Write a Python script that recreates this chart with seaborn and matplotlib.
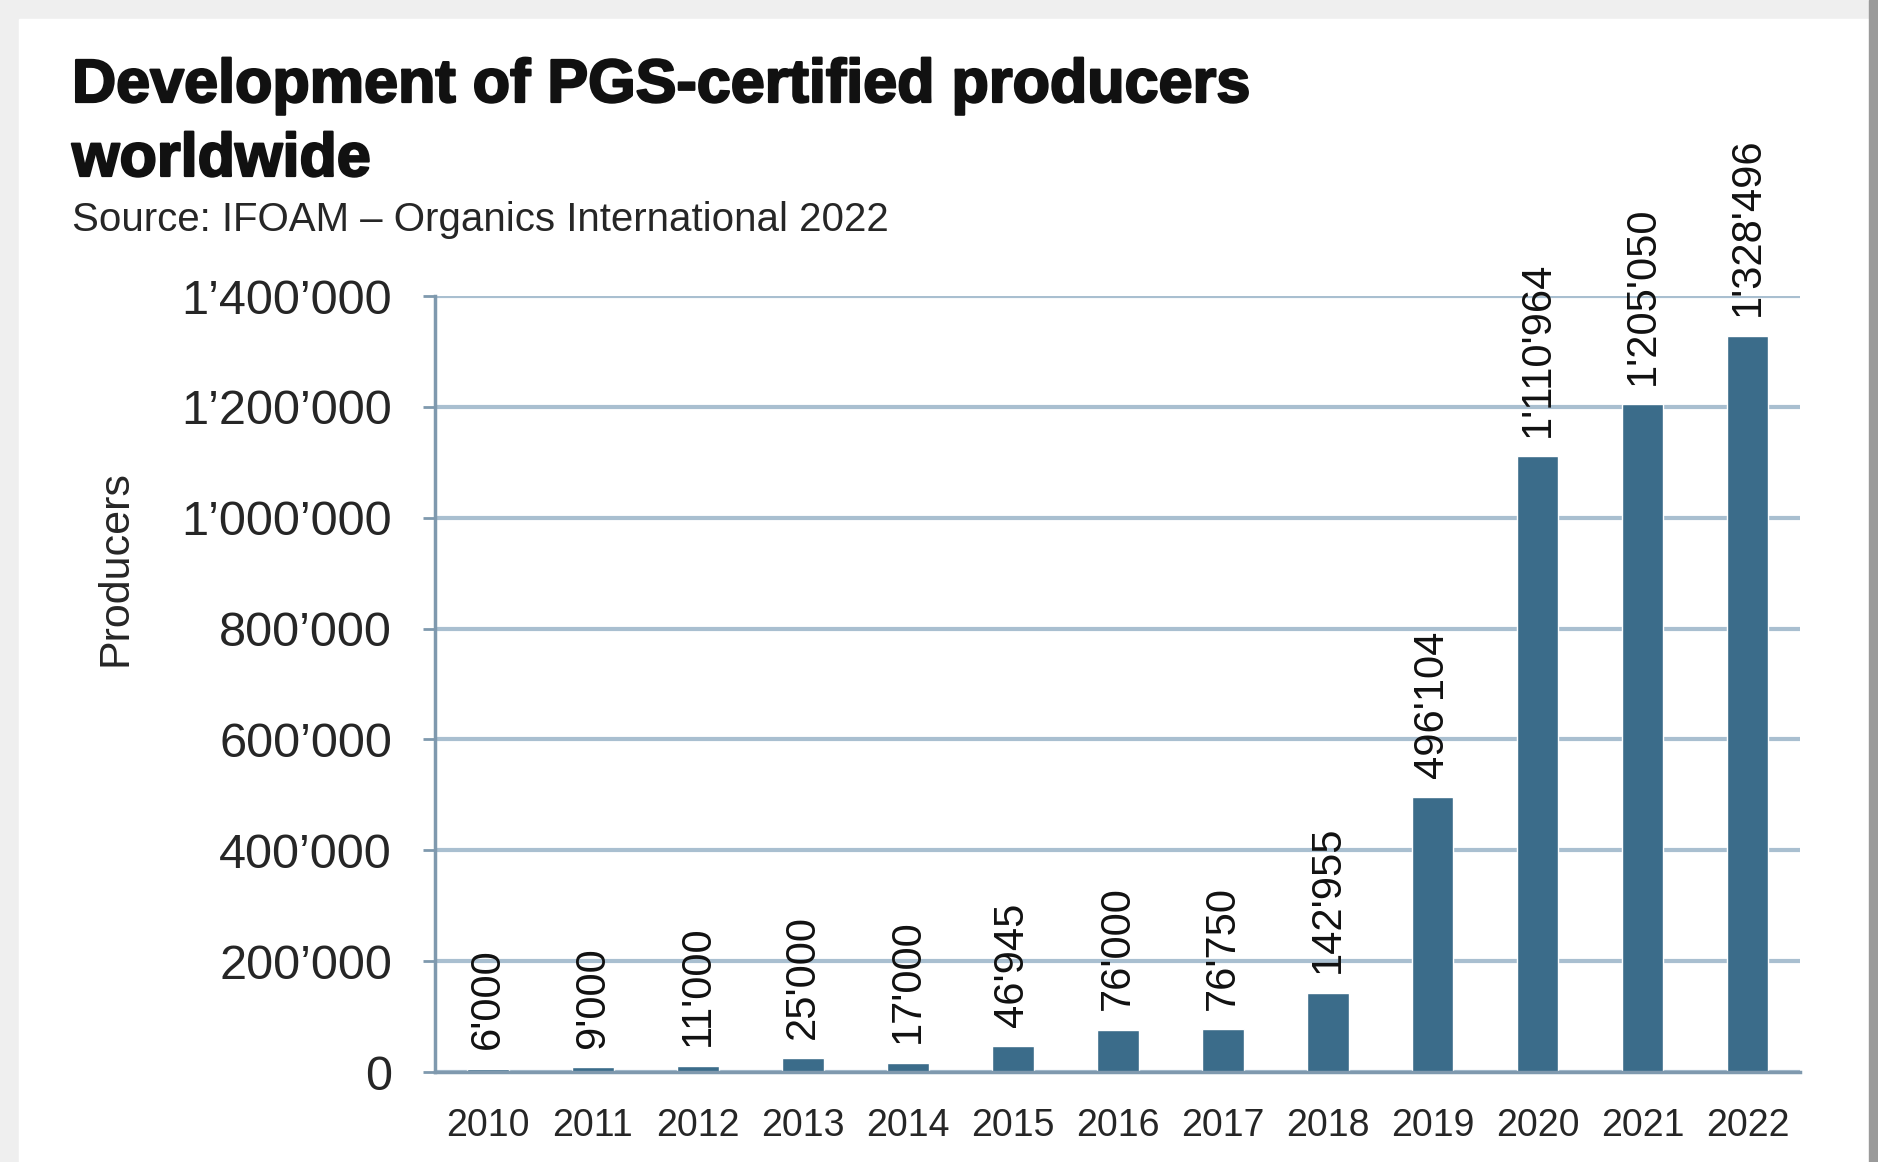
import matplotlib
matplotlib.use("Agg")
import matplotlib.pyplot as plt
import matplotlib.patches as mpatches
import matplotlib.patheffects as pe
from matplotlib.ticker import FixedLocator, FuncFormatter
import seaborn as sns
import pandas as pd

years = ["2010", "2011", "2012", "2013", "2014", "2015", "2016",
         "2017", "2018", "2019", "2020", "2021", "2022"]
producers = [6000, 9000, 11000, 25000, 17000, 46945, 76000,
             76750, 142955, 496104, 1110964, 1205050, 1328496]
yticks = [0, 200000, 400000, 600000, 800000, 1000000, 1200000, 1400000]

title_1 = "Development of PGS-certified producers"
title_2 = "worldwide"
subtitle = "Source: IFOAM \u2013 Organics International 2022"

bar_color = "#3b6c8a"
grid_color = "#a9bfd0"
axis_color = "#7f99ae"

df = pd.DataFrame({"year": years, "producers": producers})

sns.set_style("white")
plt.rcParams["font.family"] = ["Liberation Sans", "DejaVu Sans"]

fig = plt.figure(figsize=(18.78, 11.62), dpi=100)

# frame around the picture (light grey top/left, darker strip on the right)
fig.patches.append(mpatches.Rectangle((0, 0), 1, 1, transform=fig.transFigure,
                                      color="#efefef", zorder=-3))
fig.patches.append(mpatches.Rectangle((19 / 1878, 0), (1869 - 19) / 1878, 1 - 19 / 1162,
                                      transform=fig.transFigure, color="white", zorder=-2))
fig.patches.append(mpatches.Rectangle((1869 / 1878, 0), 9 / 1878, 1, transform=fig.transFigure,
                                      color="#9a9a9a", zorder=-1))

ax = fig.add_axes([435 / 1878, 1 - 1072 / 1162, (1800 - 435) / 1878, (1072 - 296) / 1162])
ax.set_facecolor("none")

sns.barplot(data=df, x="year", y="producers", color=bar_color, width=0.4,
            saturation=1, ax=ax, zorder=3)

ax.set_xlim(-0.5, len(years) - 0.5)
ax.set_ylim(0, 1400000)

ax.yaxis.set_major_locator(FixedLocator(yticks))
ax.yaxis.set_major_formatter(FuncFormatter(lambda v, p: f"{int(v):,}".replace(",", "\u2019")))
ax.grid(axis="y", color=grid_color, linewidth=3, zorder=0)
ax.grid(axis="x", visible=False)

for s in ["top", "right"]:
    ax.spines[s].set_visible(False)
for s in ["left", "bottom"]:
    ax.spines[s].set_color(axis_color)
    ax.spines[s].set_linewidth(2.5)
    ax.spines[s].set_zorder(4)

ax.set_xticks(range(len(years)), minor=False)
ax.set_xticks([i - 0.5 for i in range(len(years) + 1)], minor=True)
ax.tick_params(axis="x", which="major", length=0, pad=26, labelsize=27, labelcolor="#262626")
ax.tick_params(axis="x", which="minor", length=8, width=2, color=axis_color, direction="out")
ax.tick_params(axis="y", which="major", length=9, width=2, color=axis_color, direction="out",
               pad=22, labelsize=35, labelcolor="#262626", left=True)

ax.set_xlabel("")
ax.set_ylabel("")

for i, v in enumerate(producers):
    ax.annotate(f"{v:,}".replace(",", "'"), xy=(i, v), xytext=(0, 14),
                textcoords="offset points", rotation=90, ha="center", va="bottom",
                fontsize=30, color="#111111", annotation_clip=False, zorder=5)

fig.text(116 / 1878, 1 - 568 / 1162, "Producers", rotation=90, ha="center", va="center",
         fontsize=31, color="#262626")

heavy = [pe.withStroke(linewidth=1.6, foreground="#111111")]
fig.text(72 / 1878, 1 - 102 / 1162, title_1, fontsize=44, fontweight="bold",
         ha="left", va="baseline", color="#111111", path_effects=heavy)
fig.text(72 / 1878, 1 - 176 / 1162, title_2, fontsize=44, fontweight="bold",
         ha="left", va="baseline", color="#111111", path_effects=heavy)
fig.text(72 / 1878, 1 - 231 / 1162, subtitle, fontsize=29,
         ha="left", va="baseline", color="#262626")

fig.savefig("out.png", dpi=100)
